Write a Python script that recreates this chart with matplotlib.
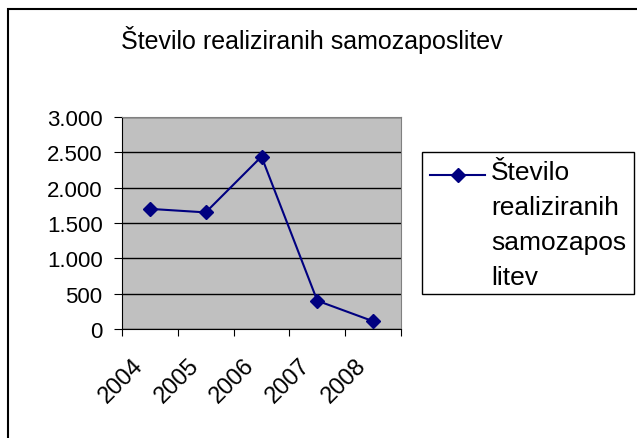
import matplotlib.pyplot as plt
from matplotlib.patches import Rectangle
from matplotlib.lines import Line2D
from matplotlib.ticker import FuncFormatter
import matplotlib.transforms as mtransforms

plt.rcParams['font.family'] = ['Liberation Sans', 'DejaVu Sans']

# data
years = ['2004', '2005', '2006', '2007', '2008']
samozaposlitve = [1700, 1650, 2440, 400, 110]
series_label = 'Število\nrealiziranih\nsamozapos\nlitev'
title = 'Število realiziranih samozaposlitev'

W, H = 637, 439
fig = plt.figure(figsize=(W / 100, H / 100), dpi=100)

# plot area in pixels (left, top, right, bottom)
L, T, R, B = 122, 118, 401, 330
ax = fig.add_axes([L / W, 1 - B / H, (R - L) / W, (B - T) / H])
ax.set_facecolor('#c0c0c0')

navy = '#000080'
x = list(range(len(years)))
ax.plot(x, samozaposlitve, color=navy, lw=1.5, marker='D', ms=7)

ax.set_xlim(-0.5, len(years) - 0.5)
ax.set_ylim(0, 3000)
ax.set_yticks(range(0, 3001, 500))
ax.yaxis.set_major_formatter(FuncFormatter(lambda v, p: f'{int(v):,}'.replace(',', '.')))
ax.grid(axis='y', color='black', lw=1)
ax.set_axisbelow(True)

# category boundaries get tick marks, labels sit at the category centres
ax.set_xticks([i - 0.5 for i in range(len(years) + 1)])
ax.set_xticklabels([])
ax.set_xticks(x, minor=True)
ax.set_xticklabels(years, minor=True, rotation=45, ha='right', va='top',
                   rotation_mode='anchor', fontsize=17)
ax.tick_params(axis='x', which='minor', length=0, pad=18)
ax.tick_params(axis='x', which='major', length=5, color='black', direction='out')
ax.tick_params(axis='y', length=6, labelsize=16, pad=8)
offset = mtransforms.ScaledTranslation(-18 / 100, 0, fig.dpi_scale_trans)
for lbl in ax.get_xticklabels(minor=True):
    lbl.set_transform(lbl.get_transform() + offset)

for s in ['top', 'right']:
    ax.spines[s].set_color('#808080')
for s in ['left', 'bottom']:
    ax.spines[s].set_color('black')

fig.text(312 / W, 1 - 40 / H, title, ha='center', va='center', fontsize=18)

# legend box drawn like the spreadsheet one: key next to the first text line
lx0, ly0, lx1, ly1 = 422, 153, 634, 295
fig.patches.append(Rectangle((lx0 / W, 1 - ly1 / H), (lx1 - lx0) / W, (ly1 - ly0) / H,
                             transform=fig.transFigure, fill=False,
                             edgecolor='black', lw=1))
key_y = 1 - 176 / H
fig.add_artist(Line2D([430 / W, 458 / W, 485 / W], [key_y] * 3, transform=fig.transFigure,
                      color=navy, lw=1.5, marker='D', ms=7, markevery=[1]))
fig.text(491 / W, 1 - 161 / H, series_label, ha='left', va='top', fontsize=19,
         linespacing=1.58)

fig.patches.append(Rectangle((8 / W, -0.1), 1.1, 1 - 10 / H + 0.1, transform=fig.transFigure,
                             fill=False, edgecolor='black', lw=1.5))

fig.savefig('out.png', dpi=100)
